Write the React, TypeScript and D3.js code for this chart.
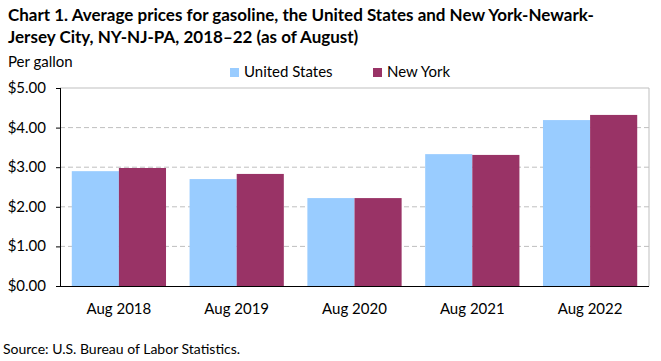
import { useMemo } from 'react';
import * as d3 from 'd3';

const categories = ['Aug 2018', 'Aug 2019', 'Aug 2020', 'Aug 2021', 'Aug 2022'];
const seriesNames = ['United States', 'New York'];
const usValues = [2.9, 2.7, 2.22, 3.33, 4.19];
const nyValues = [2.98, 2.83, 2.22, 3.31, 4.32];
const yTicks = [0, 1, 2, 3, 4, 5];
const colors = ['#99ccff', '#993366'];

const W = 661;
const H = 361;
const font = 'Lato, "Open Sans", sans-serif';

export default function App() {
  const margin = { left: 60, right: 12, top: 88, bottom: 75 };
  const x = useMemo(
    () => d3.scaleBand<string>().domain(categories).range([margin.left, W - margin.right]).paddingInner(0.2).paddingOuter(0.1),
    []
  );
  const x1 = d3.scaleBand<string>().domain(seriesNames).range([0, x.bandwidth()]);
  const y = d3.scaleLinear().domain([0, 5]).range([H - margin.bottom, margin.top]);
  const fmt = (v: number) => `$${v.toFixed(2)}`;
  const series = [usValues, nyValues];
  const x0 = margin.left;
  const xEnd = W - margin.right;
  const legendX = [230, 373];

  return (
    <svg width={W} height={H} style={{ position: 'absolute', left: 0, top: 0, background: '#fff' }} fontFamily={font}>
      <text x={8} y={21} fontSize={17} fontWeight="bold" fill="#000">
        Chart 1. Average prices for gasoline, the United States and New York-Newark-
      </text>
      <text x={8} y={43} fontSize={17} fontWeight="bold" fill="#000">
        Jersey City, NY-NJ-PA, 2018–22 (as of August)
      </text>
      <text x={8} y={67} fontSize={15} fill="#000">Per gallon</text>

      {seriesNames.map((s, i) => (
        <g key={s}>
          <rect x={legendX[i]} y={68} width={9} height={9} fill={colors[i]} />
          <text x={legendX[i] + 14} y={77} fontSize={15} fill="#000">{s}</text>
        </g>
      ))}

      {yTicks.slice(1, -1).map((t) => (
        <line key={t} x1={x0} x2={xEnd} y1={y(t)} y2={y(t)} stroke="#bfbfbf" strokeDasharray="5,3" />
      ))}
      <line x1={x0} x2={xEnd} y1={y(5)} y2={y(5)} stroke="#bfbfbf" />
      <line x1={xEnd} x2={xEnd} y1={y(5)} y2={y(0)} stroke="#bfbfbf" />

      {categories.map((c, ci) =>
        seriesNames.map((s, si) => (
          <rect
            key={c + s}
            x={(x(c) ?? 0) + (x1(s) ?? 0)}
            y={y(series[si][ci])}
            width={x1.bandwidth()}
            height={y(0) - y(series[si][ci])}
            fill={colors[si]}
          />
        ))
      )}

      <line x1={x0 + 0.5} x2={x0 + 0.5} y1={y(5)} y2={y(0)} stroke="#000" />
      <line x1={x0} x2={xEnd} y1={y(0) + 0.5} y2={y(0) + 0.5} stroke="#000" />
      {yTicks.map((t) => (
        <g key={t}>
          <line x1={x0 - 4} x2={x0} y1={y(t) + 0.5} y2={y(t) + 0.5} stroke="#000" />
          <text x={46} y={y(t) + 5} textAnchor="end" fontSize={15} fill="#000">{fmt(t)}</text>
        </g>
      ))}
      {categories.map((c) => (
        <text key={c} x={(x(c) ?? 0) + x.bandwidth() / 2} y={314} textAnchor="middle" fontSize={15} fill="#000">
          {c}
        </text>
      ))}
      <text x={3} y={354} fontSize={14} fill="#000">Source: U.S. Bureau of Labor Statistics.</text>
    </svg>
  );
}
